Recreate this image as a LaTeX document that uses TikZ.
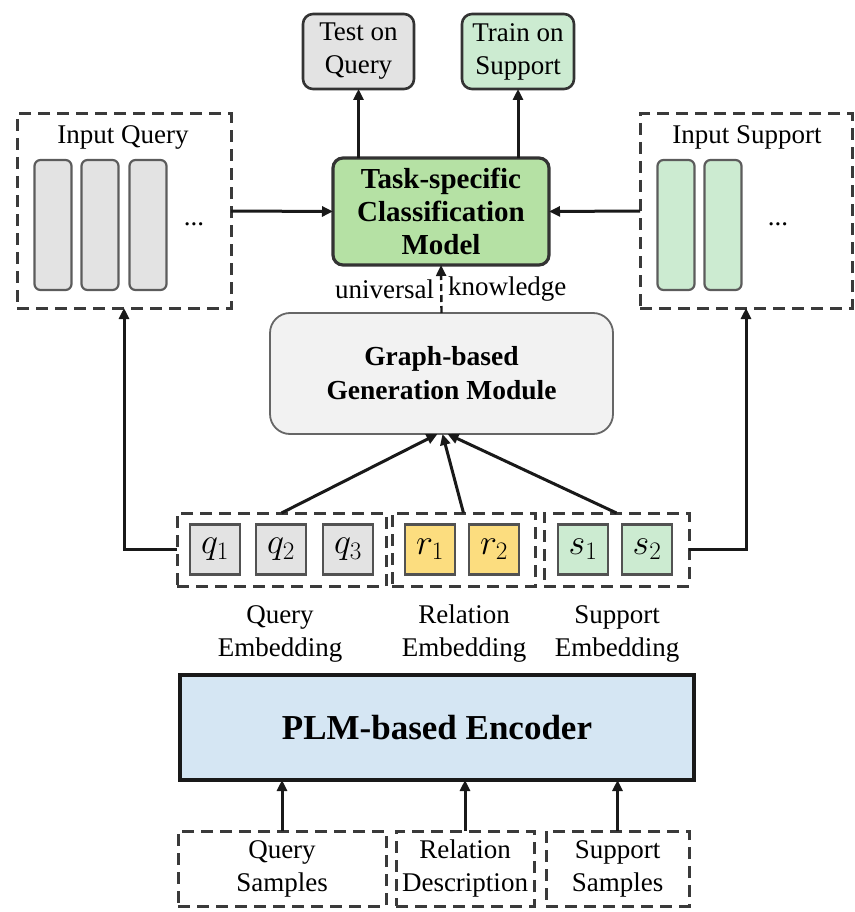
\RequirePackage{fix-cm}
\documentclass[tikz,border=0pt]{standalone}
\usepackage{fontspec}
\setmainfont{Liberation Serif}
\usetikzlibrary{arrows.meta}
\definecolor{gfill}{HTML}{E3E3E3}
\definecolor{lgreen}{HTML}{CCEBD1}
\definecolor{tgreen}{HTML}{B5E1A4}
\definecolor{yfill}{HTML}{FCDD7F}
\definecolor{bfill}{HTML}{D5E6F3}
\definecolor{genfill}{HTML}{F2F2F2}
\definecolor{edge}{HTML}{333333}
\definecolor{dashc}{HTML}{3A3A3A}
\tikzset{
  base/.style={inner sep=0pt, outer sep=0pt, align=center},
  regtext/.style={font=\fontsize{27}{33}\selectfont},
  outbox/.style={base, regtext, draw=edge, line width=2.6pt, rounded corners=10pt},
  dbox/.style={base, regtext, draw=dashc, line width=3pt, dash pattern=on 12pt off 7pt},
  bar/.style={base, draw=edge!80, line width=2.2pt, rounded corners=6pt, minimum width=37pt, minimum height=130pt},
  emb/.style={base, draw=edge!85, line width=2.2pt, minimum width=50pt, minimum height=50pt, font=\fontsize{36}{36}\selectfont},
  arr/.style={draw=black!90, line width=3pt, -{Triangle[length=11pt,width=10pt]}},
  lbl/.style={base, regtext}
}
\begin{document}
\begin{tikzpicture}[x=1pt,y=-1pt]
\useasboundingbox (0,0) rectangle (854,912);
% top outputs
\node[outbox, fill=gfill, minimum width=111pt, minimum height=75pt] (test) at (358.5,51.5) {Test on\\Query};
\node[outbox, fill=lgreen, minimum width=112pt, minimum height=75pt] (train) at (518,51.5) {Train on\\Support};
% input query / support
\node[dbox, minimum width=214pt, minimum height=194pt] (inq) at (124,211) {};
\node[lbl] (inqt) at (123,137) {Input Query};
\node[bar, fill=gfill] (qb1) at (53,225) {};
\node[bar, fill=gfill] (qb2) at (100,225) {};
\node[bar, fill=gfill] (qb3) at (148,225) {};
\node[lbl] (qdots) at (194,224) {...};
\node[dbox, minimum width=212pt, minimum height=194pt] (insup) at (746,211) {};
\node[lbl] (insupt) at (747,137) {Input Support};
\node[bar, fill=lgreen] (sb1) at (676,225) {};
\node[bar, fill=lgreen] (sb2) at (723,225) {};
\node[lbl] (sdots) at (778,224) {...};
% task model
\node[outbox, fill=tgreen, line width=3.2pt, minimum width=216pt, minimum height=107pt, font=\fontsize{29}{33}\selectfont\bfseries] (task) at (441,211.5) {Task-specific\\Classification\\Model};
% generation module
\node[base, draw=black!60, line width=1.8pt, rounded corners=20pt, fill=genfill, minimum width=343pt, minimum height=121pt, font=\fontsize{27.5}{34}\selectfont\bfseries] (gen) at (441.5,373.5) {Graph-based\\Generation Module};
\node[lbl, anchor=east] (uni) at (434,289) {universal};
\node[lbl, anchor=west] (know) at (448,289) {knowledge};
% embeddings
\node[dbox, minimum width=209pt, minimum height=73pt] (qg) at (281.5,549.5) {};
\node[dbox, minimum width=143pt, minimum height=73pt] (rg) at (463.5,549.5) {};
\node[dbox, minimum width=145pt, minimum height=73pt] (sg) at (616.5,549.5) {};
\node[emb, fill=gfill] (q1) at (215,549.5) {$q_1$};
\node[emb, fill=gfill] (q2) at (281,549.5) {$q_2$};
\node[emb, fill=gfill] (q3) at (348,549.5) {$q_3$};
\node[emb, fill=yfill] (r1) at (430,549.5) {$r_1$};
\node[emb, fill=yfill] (r2) at (494,549.5) {$r_2$};
\node[emb, fill=lgreen] (s1) at (583,549.5) {$s_1$};
\node[emb, fill=lgreen] (s2) at (647,549.5) {$s_2$};
\node[lbl] (qel) at (280,634) {Query\\Embedding};
\node[lbl] (rel) at (464,634) {Relation\\Embedding};
\node[lbl] (sel) at (617,634) {Support\\Embedding};
% encoder
\node[base, draw=black!90, line width=3.2pt, fill=bfill, minimum width=514pt, minimum height=105pt, font=\fontsize{35}{40}\selectfont\bfseries] (plm) at (437,727.5) {PLM-based Encoder};
% samples
\node[dbox, minimum width=208pt, minimum height=75pt] (qs) at (282,868.5) {Query\\Samples};
\node[dbox, minimum width=138pt, minimum height=75pt] (rd) at (465,868.5) {Relation\\Description};
\node[dbox, minimum width=143pt, minimum height=75pt] (ss) at (617.5,868.5) {Support\\Samples};
% connectors
\draw[arr] (task.north -| test.south) -- (test.south);
\draw[arr] (task.north -| train.south) -- (train.south);
\draw[arr] (inq.east) -- (task.west);
\draw[arr] (insup.west) -- (task.east);
\draw[arr, line width=2.4pt, dash pattern=on 7pt off 4pt] (gen.north) -- (task.south);
\draw[arr] (qg.north) -- ([xshift=-4pt]gen.south);
\draw[arr] (rg.north) -- ([xshift=1pt]gen.south);
\draw[arr] (sg.north) -- ([xshift=6pt]gen.south);
\draw[arr] (qg.west) -| (inq.south);
\draw[arr] (sg.east) -| (insup.south);
\draw[arr] (qs.north) -- (qs.north |- plm.south);
\draw[arr] (rd.north) -- (rd.north |- plm.south);
\draw[arr] (ss.north) -- (ss.north |- plm.south);
\end{tikzpicture}
\end{document}
